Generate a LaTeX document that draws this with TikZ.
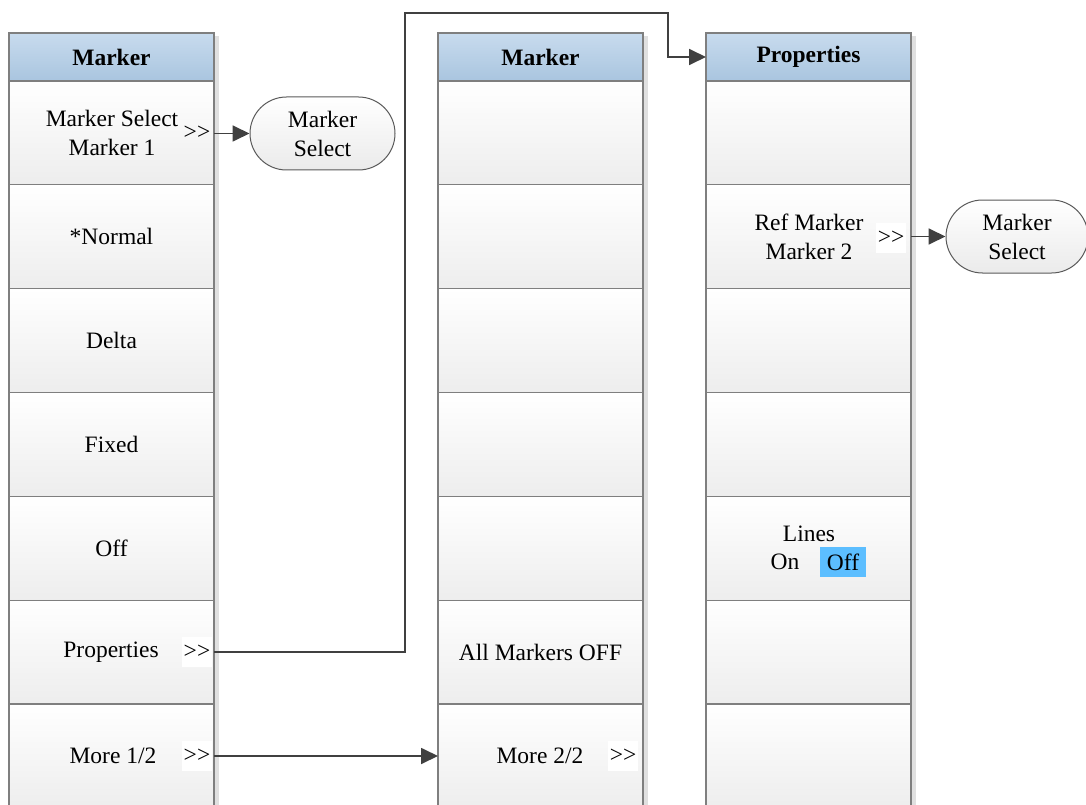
\documentclass[tikz,border=0pt]{standalone}
\usepackage{fontspec}
\setmainfont{Liberation Serif}
\usetikzlibrary{arrows.meta,shapes.misc}
\definecolor{linec}{HTML}{404040}
\definecolor{borderc}{HTML}{7F7F7F}
\definecolor{hdtop}{HTML}{C8DBEE}
\definecolor{hdbot}{HTML}{A9C5DF}
\definecolor{offblue}{HTML}{5CBEFF}
\newcommand{\dblgt}{>\kern0pt>}
\tikzset{
  base/.style={font=\fontsize{23.5}{29}\selectfont, align=center},
  cell/.style={base, draw=borderc, line width=1.2pt, top color=white, bottom color=black!7,
     minimum width=205pt, minimum height=103.85pt, inner sep=0pt, outer sep=0pt},
  hdr/.style={base, draw=borderc, line width=1.2pt, top color=hdtop, bottom color=hdbot,
     minimum width=205pt, minimum height=48pt, inner sep=0pt, outer sep=0pt, font=\fontsize{23.5}{29}\selectfont\bfseries},
  shad/.style={fill=black!12, draw=none},
  sub/.style={base, fill=white, inner sep=2pt, minimum height=30pt},
  term/.style={base, draw=black!65, line width=1pt, rounded rectangle, top color=white, bottom color=black!8,
     minimum height=73pt, inner sep=2pt},
  conn/.style={draw=linec, line width=1.8pt},
  arr/.style={conn, -{Triangle[length=17pt,width=16pt]}},
}
\begin{document}
\begin{tikzpicture}[x=1pt,y=-1pt]
\useasboundingbox (0,0) rectangle (1086,805);
% shadows
\fill[shad] (214,36) rectangle (219,810);
\fill[shad] (643,36) rectangle (648,810);
\fill[shad] (911,36) rectangle (916,810);
% left column
\node[hdr] (LH) at (111.5,57) {Marker};
\node[cell] (L1) at (111.5,132.9) {};
\node[cell] (L2) at (111.5,236.8) {*Normal};
\node[cell] (L3) at (111.5,340.6) {Delta};
\node[cell] (L4) at (111.5,444.5) {Fixed};
\node[cell] (L5) at (111.5,548.3) {Off};
\node[cell] (L6) at (111.5,652.2) {};
\node[cell] (L7) at (111.5,756.0) {};
\node[base, inner sep=0pt] (L1t) at (112,132.9) {Marker Select\\Marker 1};
\node[base] (L6t) at (111,652.2) {Properties};
\node[base] (L7t) at (113,756.0) {More 1/2};
\node[base, inner sep=0pt] (g1) at (197,133) {\dblgt};
\node[sub] (g6) at (197,652.2) {\dblgt};
\node[sub] (g7) at (197,756.0) {\dblgt};
% middle column
\node[hdr] (MH) at (540.5,57) {Marker};
\node[cell] (M1) at (540.5,132.9) {};
\node[cell] (M2) at (540.5,236.8) {};
\node[cell] (M3) at (540.5,340.6) {};
\node[cell] (M4) at (540.5,444.5) {};
\node[cell] (M5) at (540.5,548.3) {};
\node[cell] (M6) at (540.5,652.2) {All Markers OFF};
\node[cell] (M7) at (540.5,756.0) {};
\node[base] (M7t) at (540,756.0) {More 2/2};
\node[sub] (gm7) at (623,756.0) {\dblgt};
% right column
\node[hdr] (RH) at (808.5,57) {Properties};
\node[cell] (R1) at (808.5,132.9) {};
\node[cell] (R2) at (808.5,236.8) {};
\node[cell] (R3) at (808.5,340.6) {};
\node[cell] (R4) at (808.5,444.5) {};
\node[cell] (R5) at (808.5,548.3) {};
\node[cell] (R6) at (808.5,652.2) {};
\node[cell] (R7) at (808.5,756.0) {};
\node[base, inner sep=0pt] (R2t) at (809,236.8) {Ref Marker\\Marker 2};
\node[sub] (gr2) at (891,238) {\dblgt};
\node[base, inner sep=0pt] (lines) at (809,534) {Lines};
\node[base, inner sep=0pt] (on) at (785,562) {On};
\node[base, fill=offblue, minimum width=46pt, minimum height=30pt, inner sep=0pt] (off) at (843,562) {Off};
% terminals
\node[term, minimum width=149pt] (ms1) at (322.5,133.5) {Marker\\Select};
\node[term, minimum width=146pt] (ms2) at (1017,236.5) {Marker\\Select};
% connectors
\coordinate (c1) at (405,13);
\coordinate (c2) at (668,13);
\draw[arr] (L1.east |- ms1.west) -- (ms1.west);
\draw[arr] (R2.east |- ms2.west) -- (ms2.west);
\draw[arr] (L6.east) -| (c1) -- (c2) |- (RH.west);
\draw[arr] (L7.east) -- (M7.west);
\end{tikzpicture}
\end{document}
